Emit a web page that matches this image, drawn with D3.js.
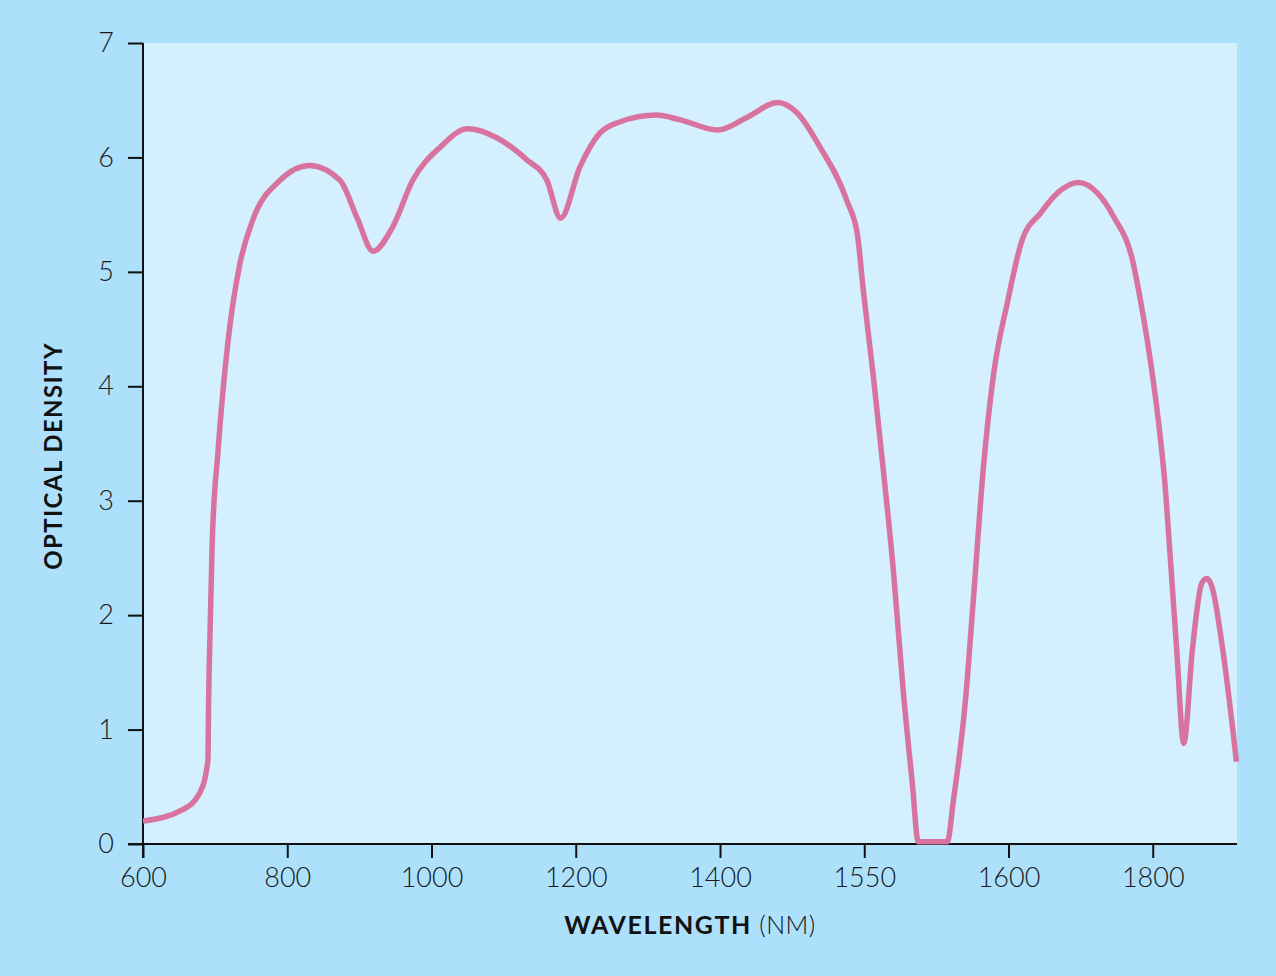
<!DOCTYPE html>
<html>
<head>
<meta charset="utf-8">
<script src="https://cdn.jsdelivr.net/npm/d3@7"></script>
<style>
  html, body { margin: 0; padding: 0; background: #ade0fa; }
  svg { display: block; }
  text { font-family: Lato, "Open Sans", sans-serif; }
</style>
</head>
<body>
<svg id="chart" width="1276" height="976"></svg>
<script>
// ---- Data ----
const xTickLabels = [600, 800, 1000, 1200, 1400, 1550, 1600, 1800];
const yTickValues = [0, 1, 2, 3, 4, 5, 6, 7];
const wavelength = [600, 655, 679, 690, 691, 693, 696, 704, 718, 734, 752, 790, 831, 873, 897, 919, 946, 974,
  1012, 1050, 1091, 1132, 1160, 1179, 1206, 1233, 1261, 1312, 1344, 1397, 1428, 1460, 1480, 1504, 1532, 1543,
  1549, 1553.1, 1556.6, 1560.1, 1563.5, 1566.7, 1568.7, 1578.8, 1580.9, 1585.1, 1587.8, 1591.3, 1594.8, 1599.6,
  1619, 1644, 1668, 1697, 1723, 1746, 1772, 1783, 1800, 1810, 1817, 1824, 1833, 1843, 1855, 1868, 1875, 1882,
  1897, 1916];
const opticalDensity = [0.20, 0.30, 0.45, 0.73, 1.26, 1.86, 2.64, 3.43, 4.40, 5.06, 5.45, 5.80, 5.93, 5.80, 5.47,
  5.18, 5.39, 5.80, 6.09, 6.25, 6.17, 5.98, 5.80, 5.47, 5.92, 6.21, 6.31, 6.37, 6.33, 6.24, 6.35, 6.48, 6.39,
  6.09, 5.62, 5.32, 4.84, 4.10, 3.27, 2.39, 1.34, 0.52, 0.02, 0.02, 0.38, 1.26, 2.13, 3.29, 4.10, 4.73, 5.28,
  5.51, 5.69, 5.78, 5.69, 5.48, 5.10, 4.75, 4.08, 3.58, 3.14, 2.53, 1.72, 0.88, 1.70, 2.28, 2.32, 2.25, 1.70,
  0.72];
const xTitleBold = "WAVELENGTH";
const xTitleLight = " (NM)";
const yTitle = "OPTICAL DENSITY";

// ---- Layout ----
const mLeft = 143, mRight = 1237, mTop = 43, mBottom = 844;
const step = 144.25;

const svg = d3.select("#chart");

svg.append("rect").attr("x", 0).attr("y", 0).attr("width", 1276).attr("height", 976).attr("fill", "#ade0fa");
svg.append("rect").attr("x", mLeft).attr("y", mTop).attr("width", mRight - mLeft).attr("height", mBottom - mTop)
  .attr("fill", "#d4effd");

const x = d3.scaleLinear()
  .domain(xTickLabels)
  .range(xTickLabels.map((d, i) => mLeft + i * step));
const y = d3.scaleLinear().domain([0, 7]).range([mBottom, mTop]);

// Axes
const xAxis = svg.append("g").attr("transform", `translate(0,${mBottom})`)
  .call(d3.axisBottom(x).tickValues(xTickLabels).tickSize(14).tickSizeOuter(0).tickPadding(6).tickFormat(d => d));
xAxis.select(".domain").remove();
xAxis.selectAll("line").attr("stroke", "#111").attr("stroke-width", 2);
xAxis.selectAll("text").attr("font-size", 27).attr("font-weight", 300).attr("fill", "#1a1a1a")
  .attr("dy", "0.85em");

const yAxis = svg.append("g").attr("transform", `translate(${mLeft},0)`)
  .call(d3.axisLeft(y).tickValues(yTickValues).tickSize(15).tickSizeOuter(0).tickPadding(14).tickFormat(d3.format("d")));
yAxis.select(".domain").remove();
yAxis.selectAll("line").attr("stroke", "#111").attr("stroke-width", 2);
yAxis.selectAll("text").attr("font-size", 27).attr("font-weight", 300).attr("fill", "#1a1a1a");

// axis lines
svg.append("line").attr("x1", mLeft - 15).attr("x2", mRight).attr("y1", mBottom).attr("y2", mBottom)
  .attr("stroke", "#111").attr("stroke-width", 2);
svg.append("line").attr("x1", mLeft).attr("x2", mLeft).attr("y1", mTop).attr("y2", mBottom + 14)
  .attr("stroke", "#111").attr("stroke-width", 2);

// Line
const pts = wavelength.map((w, i) => [w, opticalDensity[i]]);
const line = d3.line().x(d => x(d[0])).y(d => y(d[1])).curve(d3.curveMonotoneX);
svg.append("path").datum(pts).attr("d", line).attr("fill", "none")
  .attr("stroke", "#d8739f").attr("stroke-width", 5.5).attr("stroke-linejoin", "round").attr("stroke-linecap", "butt");

// Titles
const xt = svg.append("text").attr("x", (mLeft + mRight) / 2).attr("y", 934).attr("text-anchor", "middle")
  .attr("font-size", 25).attr("fill", "#111");
xt.append("tspan").attr("font-weight", 700).attr("letter-spacing", 1.6).text(xTitleBold);
xt.append("tspan").attr("font-weight", 300).attr("letter-spacing", 0.5).text(xTitleLight);

svg.append("text").attr("transform", `translate(62,456) rotate(-90)`).attr("text-anchor", "middle")
  .attr("font-size", 24).attr("font-weight", 700).attr("letter-spacing", 1.4).attr("fill", "#111").text(yTitle);
</script>
</body>
</html>
